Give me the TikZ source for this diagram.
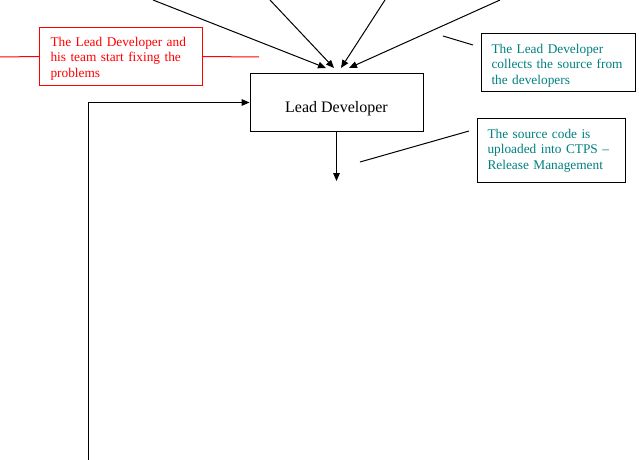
\documentclass[tikz,border=0pt]{standalone}
\usepackage{fontspec}
\setmainfont{Liberation Serif}
\usetikzlibrary{arrows.meta}
\definecolor{tealtxt}{RGB}{0,128,128}
\definecolor{redtxt}{RGB}{255,0,0}
\begin{document}
\begin{tikzpicture}[x=0.75pt,y=-0.75pt,
  ln/.style={line width=0.75pt},
  arr/.style={ln,-{Triangle[length=6pt,width=5pt]}},
  note/.style={draw,line width=0.75pt,rectangle,anchor=north west,align=left,
    inner xsep=7.5pt,inner ysep=0pt,font=\fontsize{10}{11.7}\selectfont},
]
\useasboundingbox (0,0) rectangle (639,460);
% main box
\node[draw,ln,anchor=north west,minimum width=129.75pt,minimum height=43.5pt,
  inner sep=0pt,text height=16pt,text depth=1.2pt,font=\fontsize{12}{14}\selectfont] (ld) at (249.5,73) {Lead Developer};
% notes
\node[note,draw=redtxt,text=redtxt,text width=105.75pt,minimum height=43.5pt,inner xsep=8.25pt]
  (fix) at (39,27) {\rule{0pt}{10pt}The Lead Developer and\\his team start fixing the\\problems};
\node[note,draw=black,text=tealtxt,text width=100.5pt,minimum height=43.5pt]
  (coll) at (481,33) {\rule{0pt}{11.3pt}The Lead Developer\\collects the source from\\the developers};
\node[note,draw=black,text=tealtxt,text width=96pt,minimum height=48pt]
  (upl) at (477,118) {The source code is\\uploaded into CTPS --\\Release Management};
% free ends
\coordinate (s1) at (153,0);
\coordinate (s2) at (270,0);
\coordinate (s3) at (385,0);
\coordinate (s4) at (500,0);
\coordinate (t1) at (326,68);
\coordinate (t2) at (334,68);
\coordinate (t3) at (341,68);
\coordinate (t4) at (349,68);
\coordinate (down) at (336,181);
\coordinate (loopbot) at (88,460);
\coordinate (rl) at (0,57);
\coordinate (rr) at (259,57);
\coordinate (c1a) at (443,36);
\coordinate (c1b) at (473,45);
\coordinate (c2a) at (360,162);
\coordinate (c2b) at (469,131);
% connectors
\draw[arr] (s1) -- (t1);
\draw[arr] (s2) -- (t2);
\draw[arr] (s3) -- (t3);
\draw[arr] (s4) -- (t4);
\draw[arr] (ld.south) -- (ld.south |- down);
\draw[arr] (loopbot) |- (ld.west);
\draw[ln,redtxt] (rl) -- (fix.west);
\draw[ln,redtxt] (fix.east) -- (rr);
\draw[ln] (c1a) -- (c1b);
\draw[ln] (c2a) -- (c2b);
\end{tikzpicture}
\end{document}
